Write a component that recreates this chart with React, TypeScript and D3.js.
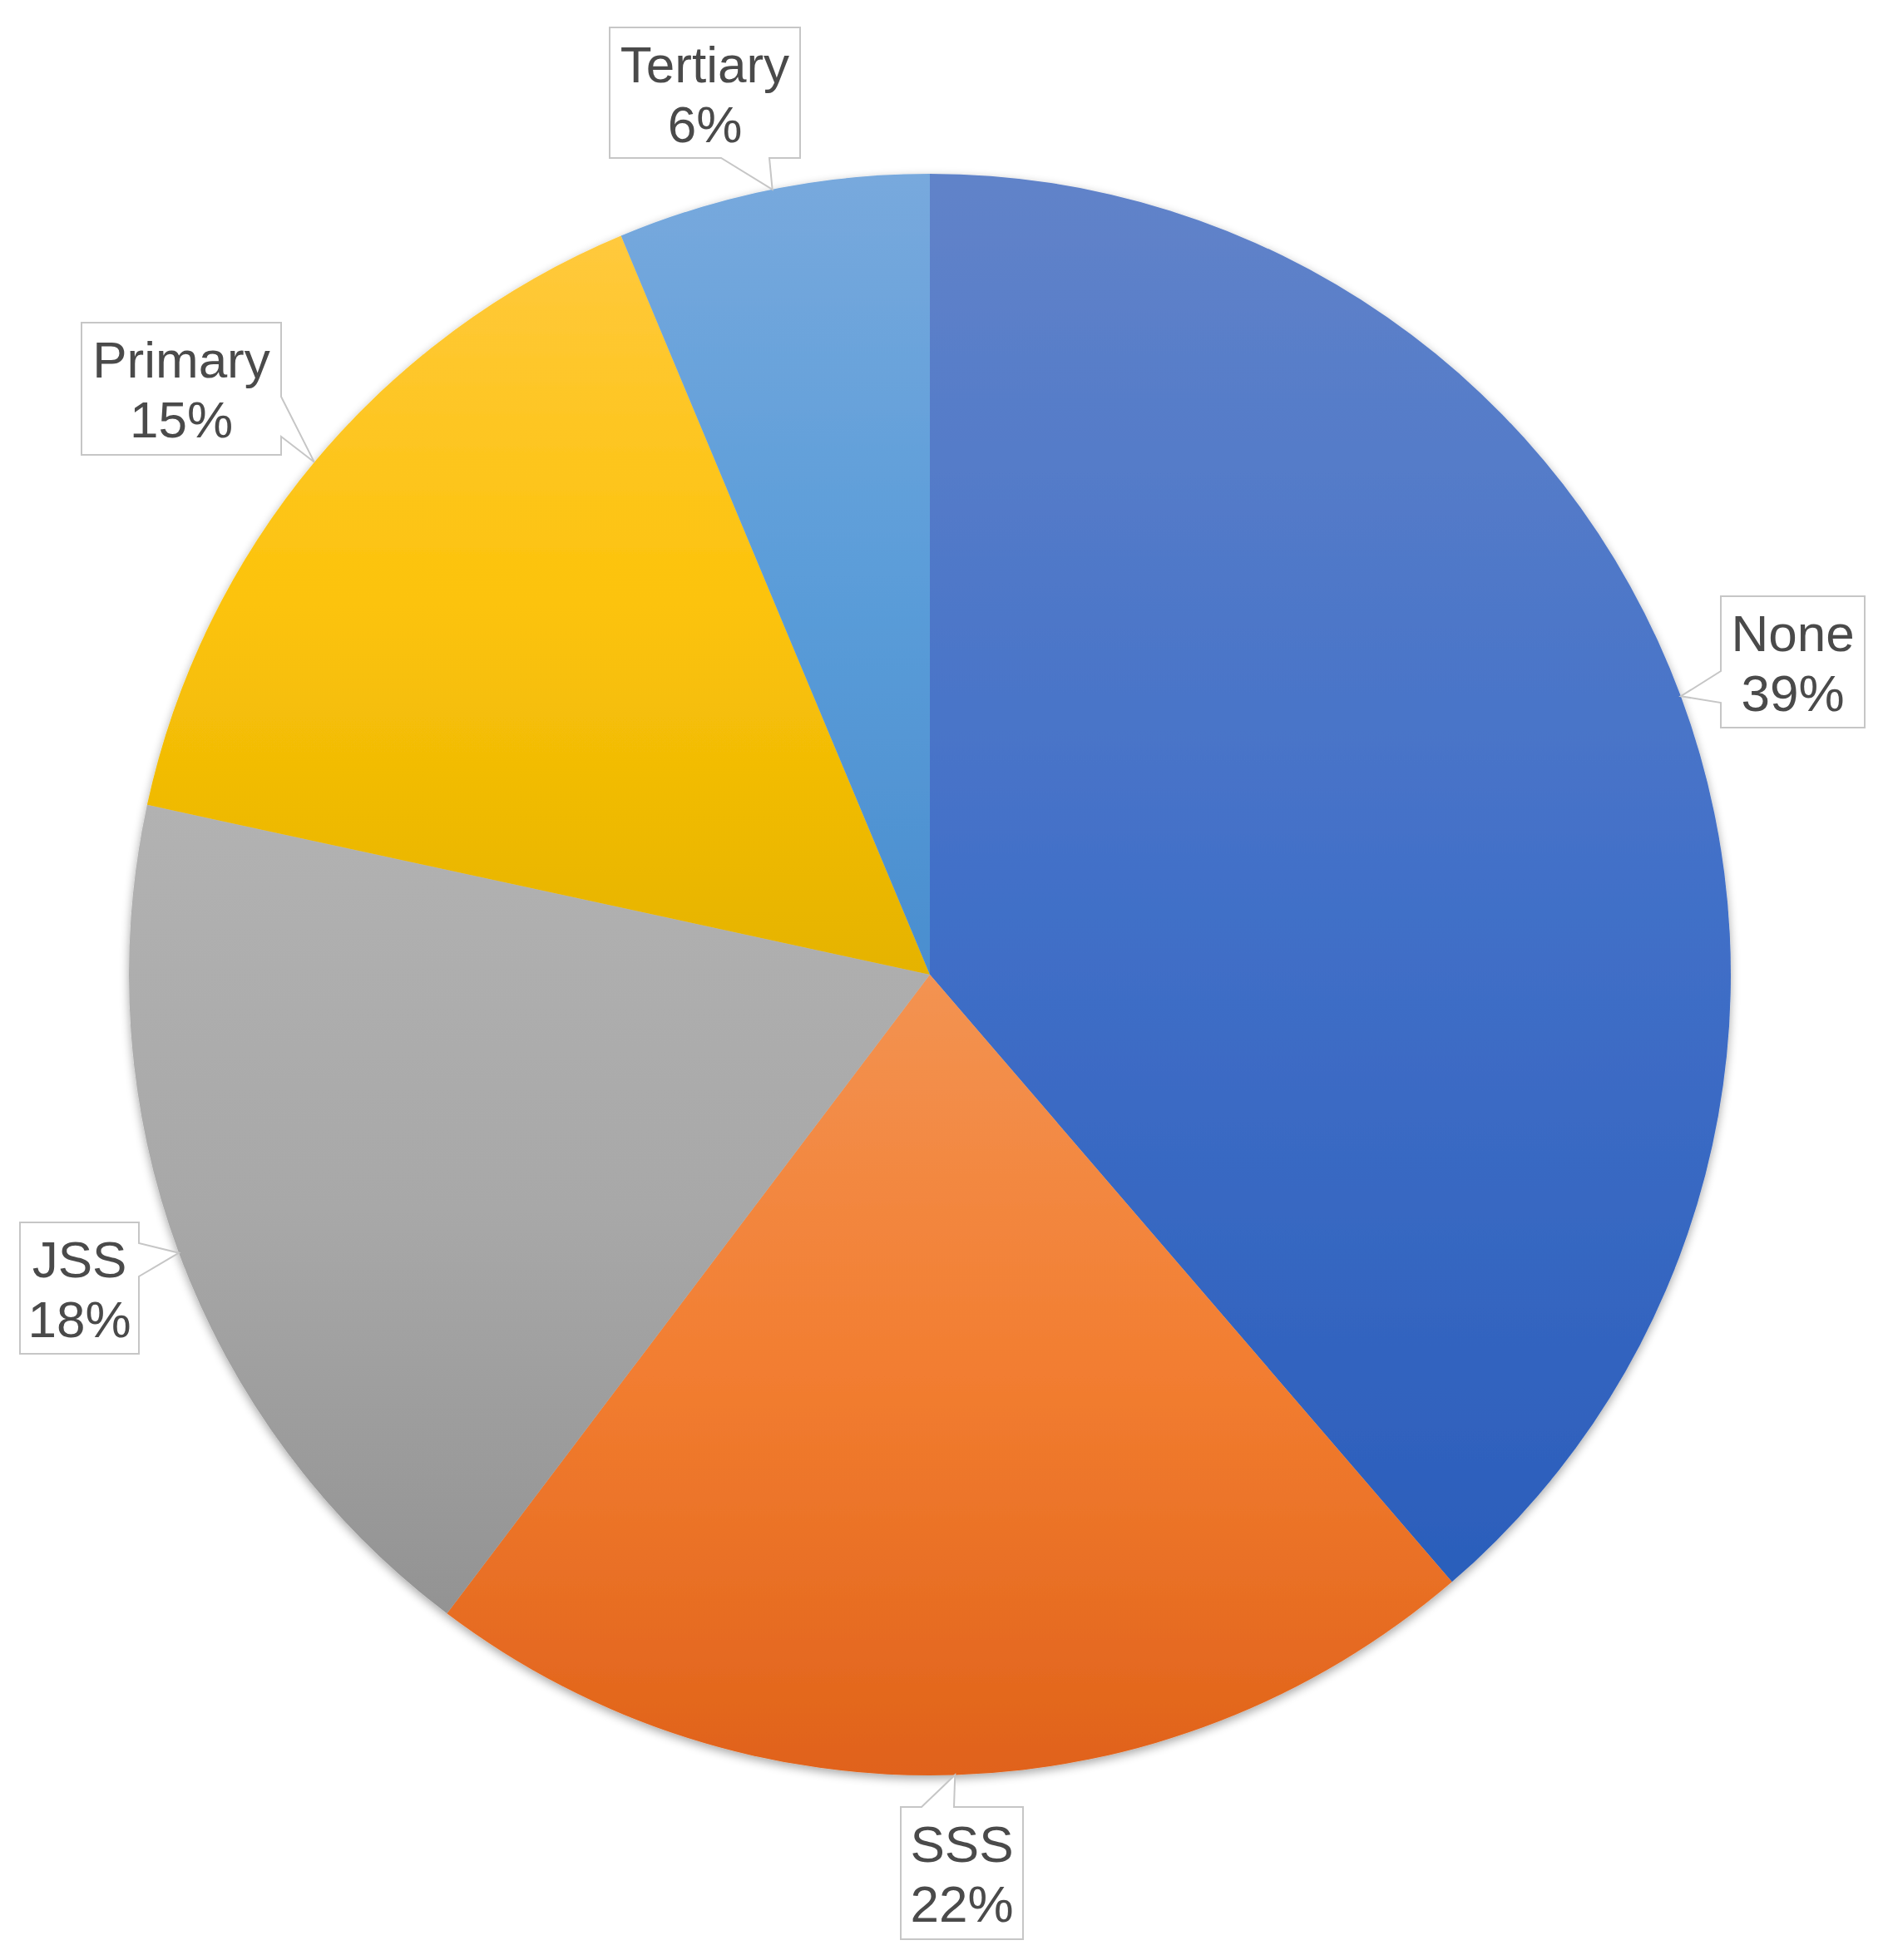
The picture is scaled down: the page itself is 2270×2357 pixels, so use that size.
import React from "react";
import * as d3 from "d3";

const categories = ["None", "SSS", "JSS", "Primary", "Tertiary"];
const values = [38.7, 21.6, 18.1, 15.3, 6.3];
const topColors = ["#6183c9", "#f39352", "#b2b2b2", "#ffc93d", "#78a9dd"];
const midColors = ["#4270c8", "#f27d30", "#a8a8a8", "#fcc30a", "#5b9dd9"];
const bottomColors = ["#2b5ebb", "#e0621a", "#939393", "#e5b300", "#4a8ecf"];

// label box layout (x0, y0, x1, y1, side of notch, notch base start/end along that side)
const boxLayout: Record<string, { x0: number; y0: number; x1: number; y1: number; side: string; a: number; b: number }> = {
  None: { x0: 2069, y0: 717, x1: 2242, y1: 875, side: "left", a: 807, b: 845 },
  SSS: { x0: 1083, y0: 2173, x1: 1230, y1: 2332, side: "top", a: 1108, b: 1147 },
  JSS: { x0: 24, y0: 1470, x1: 167, y1: 1628, side: "right", a: 1495, b: 1535 },
  Primary: { x0: 98, y0: 388, x1: 338, y1: 547, side: "right", a: 477, b: 525 },
  Tertiary: { x0: 733, y0: 33, x1: 962, y1: 190, side: "bottom", a: 867, b: 925 },
};

const W = 2270;
const H = 2357;
const CX = 1118;
const CY = 1172;
const R = 963;

function calloutPath(L: typeof boxLayout[string], tx: number, ty: number) {
  const { x0, y0, x1, y1, side, a, b } = L;
  const p = d3.path();
  p.moveTo(x0, y0);
  if (side === "top") {
    p.lineTo(a, y0);
    p.lineTo(tx, ty);
    p.lineTo(b, y0);
  }
  p.lineTo(x1, y0);
  if (side === "right") {
    p.lineTo(x1, a);
    p.lineTo(tx, ty);
    p.lineTo(x1, b);
  }
  p.lineTo(x1, y1);
  if (side === "bottom") {
    p.lineTo(b, y1);
    p.lineTo(tx, ty);
    p.lineTo(a, y1);
  }
  p.lineTo(x0, y1);
  if (side === "left") {
    p.lineTo(x0, b);
    p.lineTo(tx, ty);
    p.lineTo(x0, a);
  }
  p.closePath();
  return p.toString();
}

export default function App() {
  const data = categories.map((c, i) => ({ name: c, value: values[i], i }));
  const pie = d3.pie<any>().sort(null).value((d) => d.value);
  const arcs = pie(data);
  const arc = d3.arc<any>().innerRadius(0).outerRadius(R);
  const total = d3.sum(values);

  return (
    <svg width={W} height={H} style={{ display: "block", position: "absolute", left: 0, top: 0 }}>
      <defs>
        {categories.map((c, i) => (
          <linearGradient key={c} id={`g${i}`} x1="0" y1="0" x2="0" y2="1">
            <stop offset="0%" stopColor={topColors[i]} />
            <stop offset="50%" stopColor={midColors[i]} />
            <stop offset="100%" stopColor={bottomColors[i]} />
          </linearGradient>
        ))}
        <filter id="shadow" x="-10%" y="-10%" width="120%" height="120%">
          <feGaussianBlur in="SourceAlpha" stdDeviation="6" />
          <feOffset dx="0" dy="4" result="b" />
          <feComponentTransfer>
            <feFuncA type="linear" slope="0.35" />
          </feComponentTransfer>
          <feMerge>
            <feMergeNode />
            <feMergeNode in="SourceGraphic" />
          </feMerge>
        </filter>
      </defs>
      <rect x={0} y={0} width={W} height={H} fill="#ffffff" />
      <g transform={`translate(${CX},${CY})`} filter="url(#shadow)">
        {arcs.map((a, i) => (
          <path key={i} d={arc(a) as string} fill={`url(#g${i})`} />
        ))}
      </g>
      {arcs.map((a, i) => {
        const name = categories[i];
        const L = boxLayout[name];
        const mid = (a.startAngle + a.endAngle) / 2;
        const tx = CX + R * Math.sin(mid);
        const ty = CY - R * Math.cos(mid);
        const cx = (L.x0 + L.x1) / 2;
        const pct = Math.round((values[i] / total) * 100) + "%";
        return (
          <g key={name}>
            <path d={calloutPath(L, tx, ty)} fill="#ffffff" stroke="#c6c6c6" strokeWidth={2} />
            <text
              x={cx}
              y={L.y0 + 66}
              textAnchor="middle"
              fontFamily="Liberation Sans, Arial, sans-serif"
              fontSize={62}
              fill="#4a4a4a"
            >
              {name}
            </text>
            <text
              x={cx}
              y={L.y0 + 138}
              textAnchor="middle"
              fontFamily="Liberation Sans, Arial, sans-serif"
              fontSize={62}
              fill="#4a4a4a"
            >
              {pct}
            </text>
          </g>
        );
      })}
    </svg>
  );
}
